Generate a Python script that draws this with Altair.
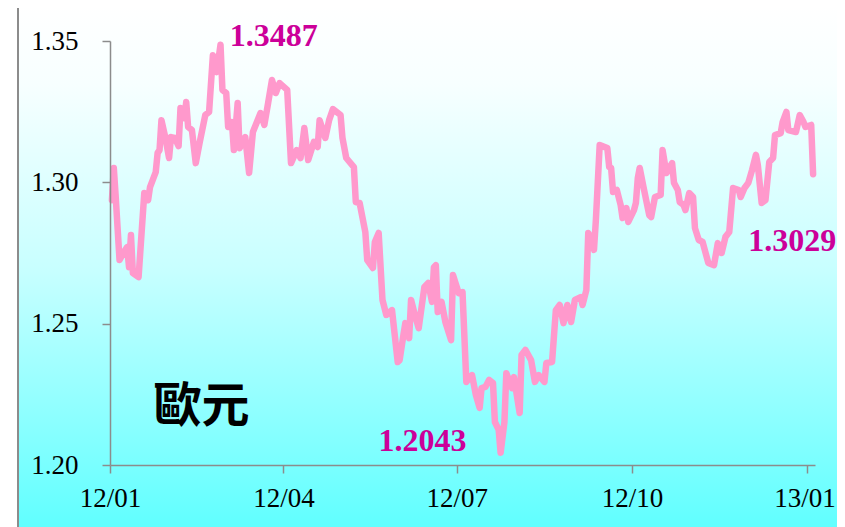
import altair as alt
import pandas as pd

BASE_DATE = "2012-01-01"

# trading-day offsets from 2012-01-01 and EUR/USD values
day_offsets = [
    1, 2, 3, 5, 7, 9, 10, 11, 12, 15, 18, 20, 21, 24, 25, 26, 27, 29, 31, 32,
    34, 36, 37, 39, 40, 41, 43, 45, 47, 50, 52, 54, 56, 58, 59, 61, 62, 64, 65, 67,
    68, 71, 73, 75, 79, 81, 83, 85, 87, 89, 93, 95, 98, 100, 102, 104, 107, 109, 110, 113,
    115, 117, 121, 122, 124, 128, 129, 131, 134, 135, 138, 139, 141, 143, 145, 148, 151, 152, 154, 155,
    157, 158, 160, 162, 165, 167, 169, 170, 171, 172, 174, 176, 179, 180, 182, 183, 185, 187, 189, 190,
    192, 194, 195, 197, 199, 201, 202, 204, 205, 207, 208, 211, 212, 215, 216, 218, 221, 223, 225, 228,
    229, 232, 234, 236, 238, 240, 242, 244, 247, 248, 250, 251, 253, 254, 255, 257, 261, 262, 263, 264,
    266, 268, 269, 271, 272, 275, 276, 277, 278, 280, 283, 284, 286, 289, 290, 292, 295, 296, 298, 299,
    301, 302, 304, 306, 307, 309, 311, 314, 317, 319, 321, 323, 325, 327, 330, 331, 333, 335, 337, 339,
    340, 342, 344, 346, 348, 349, 352, 353, 355, 356, 360, 362, 364, 365, 368, 369,
]
eur_usd = [
    1.2937, 1.3051, 1.2948, 1.2725, 1.2750, 1.2771, 1.2700, 1.2814, 1.2679, 1.2665,
    1.2962, 1.2937, 1.2983, 1.3036, 1.3104, 1.3114, 1.3220, 1.3160, 1.3086, 1.3160,
    1.3157, 1.3128, 1.3263, 1.3227, 1.3284, 1.3196, 1.3185, 1.3068, 1.3139, 1.3238,
    1.3249, 1.3450, 1.3390, 1.3487, 1.3327, 1.3316, 1.3196, 1.3213, 1.3114, 1.3281,
    1.3121, 1.3160, 1.3033, 1.3178, 1.3245, 1.3203, 1.3281, 1.3362, 1.3316, 1.3351,
    1.3327, 1.3068, 1.3114, 1.3086, 1.3192, 1.3079, 1.3143, 1.3125, 1.3220, 1.3157,
    1.3220, 1.3259, 1.3238, 1.3157, 1.3086, 1.3054, 1.2930, 1.2927, 1.2824, 1.2725,
    1.2697, 1.2789, 1.2821, 1.2584, 1.2531, 1.2548, 1.2364, 1.2371, 1.2460, 1.2502,
    1.2449, 1.2584, 1.2531, 1.2484, 1.2630, 1.2644, 1.2577, 1.2700, 1.2707, 1.2541,
    1.2577, 1.2506, 1.2442, 1.2672, 1.2630, 1.2608, 1.2612, 1.2294, 1.2311, 1.2318,
    1.2248, 1.2202, 1.2272, 1.2276, 1.2301, 1.2290, 1.2152, 1.2124, 1.2043, 1.2152,
    1.2325, 1.2272, 1.2311, 1.2184, 1.2389, 1.2407, 1.2371, 1.2294, 1.2318, 1.2294,
    1.2361, 1.2364, 1.2548, 1.2566, 1.2502, 1.2566, 1.2506, 1.2584, 1.2594, 1.2566,
    1.2619, 1.2821, 1.2796, 1.2761, 1.2867, 1.3132, 1.3121, 1.3054, 1.3051, 1.2966,
    1.2973, 1.2920, 1.2874, 1.2909, 1.2860, 1.2902, 1.2927, 1.3015, 1.3051, 1.2983,
    1.2884, 1.2877, 1.2948, 1.2955, 1.3114, 1.3033, 1.3068, 1.2998, 1.2973, 1.2930,
    1.2920, 1.2902, 1.2962, 1.2948, 1.2838, 1.2796, 1.2789, 1.2715, 1.2707, 1.2785,
    1.2750, 1.2807, 1.2824, 1.2980, 1.2973, 1.2948, 1.2980, 1.2998, 1.3044, 1.3097,
    1.3061, 1.2927, 1.2937, 1.3072, 1.3086, 1.3167, 1.3174, 1.3213, 1.3249, 1.3185,
    1.3178, 1.3238, 1.3213, 1.3196, 1.3203, 1.3029,
]

# annotations: text, day offset, value
label_texts = ["1.3487", "1.2043", "1.3029"]
label_days = [86, 164, 358]
label_values = [1.3518, 1.2085, 1.2791]

title_text = ["歐元"]
title_days = [48]
title_values = [1.2200]

tick_dates = ["2012-01-01", "2012-04-01", "2012-07-01", "2012-10-01", "2013-01-01"]
y_ticks = [1.20, 1.25, 1.30, 1.35]

base = pd.Timestamp(BASE_DATE)
df = pd.DataFrame({
    "date": [(base + pd.Timedelta(days=d)).strftime("%Y-%m-%d") for d in day_offsets],
    "value": eur_usd,
    "order": list(range(len(eur_usd))),
})
labels_df = pd.DataFrame({
    "date": [(base + pd.Timedelta(days=d)).strftime("%Y-%m-%d") for d in label_days],
    "value": label_values,
    "text": label_texts,
})
title_df = pd.DataFrame({
    "date": [(base + pd.Timedelta(days=d)).strftime("%Y-%m-%d") for d in title_days],
    "value": title_values,
    "text": title_text,
})

W, H = 705, 424

x_scale = alt.Scale(type="utc", domain=["2012-01-01", "2013-01-05"], nice=False)
y_scale = alt.Scale(domain=[1.20, 1.35], nice=False, zero=False)

x_enc = alt.X(
    "date:T",
    scale=x_scale,
    axis=alt.Axis(
        values=[alt.DateTime(year=int(d[:4]), month=int(d[5:7]), date=1, utc=True) for d in tick_dates],
        labelExpr="utcFormat(datum.value, '%y/%m')",
        title=None,
        grid=False,
        zindex=2,
        domainColor="#8c8c8c",
        domainWidth=1.5,
        tickColor="#8c8c8c",
        tickWidth=1.5,
        tickSize=8,
        labelFont="Liberation Serif",
        labelFontSize=27,
        labelColor="#000000",
        labelPadding=12,
        labelOffset={"condition": {"test": "utcyear(datum.value) == 2013", "value": -3}, "value": 0},
        labelFlush=False,
        labelOverlap=False,
    ),
)
y_enc = alt.Y(
    "value:Q",
    scale=y_scale,
    axis=alt.Axis(
        values=y_ticks,
        format=".2f",
        title=None,
        grid=False,
        zindex=2,
        domainColor="#8c8c8c",
        domainWidth=1.5,
        tickColor="#8c8c8c",
        tickWidth=1.5,
        tickSize=8,
        labelFont="Liberation Serif",
        labelFontSize=27,
        labelColor="#000000",
        labelPadding=24,
        labelOverlap=False,
    ),
)

gradient = alt.Gradient(
    gradient="linear",
    x1=0, y1=0, x2=0, y2=1,
    stops=[
        alt.GradientStop(color="#ffffff", offset=0),
        alt.GradientStop(color="#f7ffff", offset=0.15),
        alt.GradientStop(color="#c8ffff", offset=0.5),
        alt.GradientStop(color="#5fffff", offset=1),
    ],
)

bg = alt.Chart(alt.Data(values=[{"k": 1}])).mark_rect(
    fill=gradient, stroke="#8c8c8c", strokeWidth=2
).encode(
    x=alt.value(-92), x2=alt.value(740), y=alt.value(-36), y2=alt.value(490)
)

line = alt.Chart(df).mark_line(
    color="#ff99cc", strokeWidth=6.5, strokeCap="round", strokeJoin="round"
).encode(x=x_enc, y=y_enc, order="order:Q")

labels = alt.Chart(labels_df).mark_text(
    font="Liberation Serif", fontSize=32, fontWeight="bold", color="#cc0099",
    align="center", baseline="middle"
).encode(x=alt.X("date:T", scale=x_scale), y=alt.Y("value:Q", scale=y_scale), text="text:N")

title = alt.Chart(title_df).mark_text(
    font="Noto Sans CJK TC", fontSize=48, fontWeight="bold", color="#000000",
    align="center", baseline="middle"
).encode(x=alt.X("date:T", scale=x_scale), y=alt.Y("value:Q", scale=y_scale), text="text:N")

chart = alt.layer(bg, line, labels, title).properties(
    width=W, height=H,
    autosize=alt.AutoSizeParams(type="none"),
    padding={"left": 102, "top": 33, "right": 22, "bottom": 62},
    background="#ffffff",
).configure_view(stroke=None)

chart.save("out.html", embed_options={"renderer": "svg", "actions": False})
